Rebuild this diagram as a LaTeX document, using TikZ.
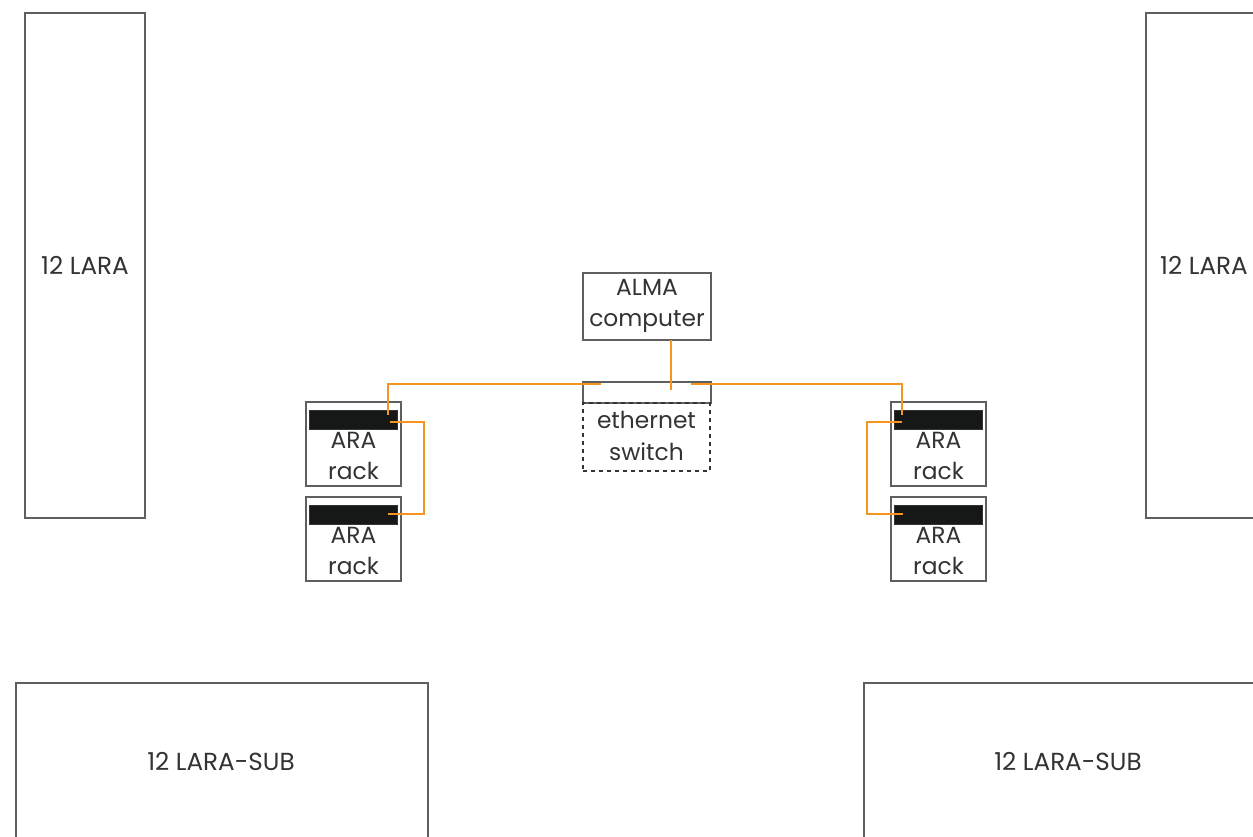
\documentclass[tikz,border=0pt]{standalone}
\usepackage{fontspec}
\setmainfont{Poppins}
\definecolor{edge}{HTML}{5F5F5F}
\definecolor{txt}{HTML}{333333}
\definecolor{wire}{HTML}{F7941D}
\definecolor{barc}{HTML}{161817}
\begin{document}
\begin{tikzpicture}[x=0.75pt,y=-0.75pt,
  box/.style={draw=edge,line width=1pt,fill=white,inner sep=0pt,text=txt},
  dbox/.style={draw=black!80,dashed,line width=0.9pt,inner sep=0pt,text=txt},
  bar/.style={fill=barc,draw=barc!60!edge,line width=0.6pt,inner sep=0pt,minimum width=66pt,minimum height=14.25pt},
  lbl/.style={text=txt,align=center,font=\fontsize{17.5}{23.5}\selectfont,inner sep=0pt},
  biglbl/.style={lbl,font=\fontsize{18.5}{23.5}\selectfont},
  wirestyle/.style={draw=wire,line width=1.1pt}]
\useasboundingbox (0,0) rectangle (1253,836);
% big boxes
\node[box,minimum width=90pt,minimum height=378.75pt] (laraL) at (85,265.5) {};
\node[biglbl] (laraLt) at (85,265) {12 LARA};
\node[box,minimum width=90pt,minimum height=378.75pt] (laraR) at (1206,265.5) {};
\node[biglbl] (laraRt) at (1204,265) {12 LARA};
\node[box,minimum width=309pt,minimum height=117pt] (subL) at (222,761) {};
\node[biglbl] (subLt) at (221,761) {12 LARA-SUB};
\node[box,minimum width=306pt,minimum height=117pt] (subR) at (1068,761) {};
\node[biglbl] (subRt) at (1068,761) {12 LARA-SUB};
% ALMA computer
\node[box,minimum width=96pt,minimum height=50.25pt] (alma) at (647,306.5) {};
\node[lbl] (almat) at (647,306) {ALMA\\computer};
% ethernet switch
\node[box,minimum width=96pt,minimum height=15.75pt] (swbar) at (647,392.5) {};
\node[dbox,minimum width=95.25pt,minimum height=51pt] (sw) at (646.5,437) {};
\node[lbl] (swt) at (646.5,436) {ethernet\\switch};
% ARA racks
\foreach \n/\cx/\cy in {L1/353.5/444, L2/353.5/539, R1/938.5/444, R2/938.5/539}{
  \node[box,minimum width=71.25pt,minimum height=63pt] (rack\n) at (\cx,\cy) {};
  \node[bar] (bar\n) at (\cx,\cy-24.5) {};
  \node[lbl] (rackt\n) at (\cx,\cy+12) {ARA\\rack};
}
% ports
\coordinate (almaP) at (671,340);
\coordinate (swP) at (671,390);
\coordinate (swL) at (601,384);
\coordinate (swR) at (691,384);
\coordinate (pL1a) at (388,415);
\coordinate (pL1b) at (390,422);
\coordinate (pL2) at (388,514);
\coordinate (pR1a) at (902,415);
\coordinate (pR1b) at (902,422);
\coordinate (pR2) at (903,514);
% wires
\draw[wirestyle] (almaP) -- (swP);
\draw[wirestyle] (swL) -| (pL1a);
\draw[wirestyle] (swR) -| (pR1a);
\draw[wirestyle] (pL1b) -- ++(34,0) |- (pL2);
\draw[wirestyle] (pR1b) -- ++(-35,0) |- (pR2);
\end{tikzpicture}
\end{document}
